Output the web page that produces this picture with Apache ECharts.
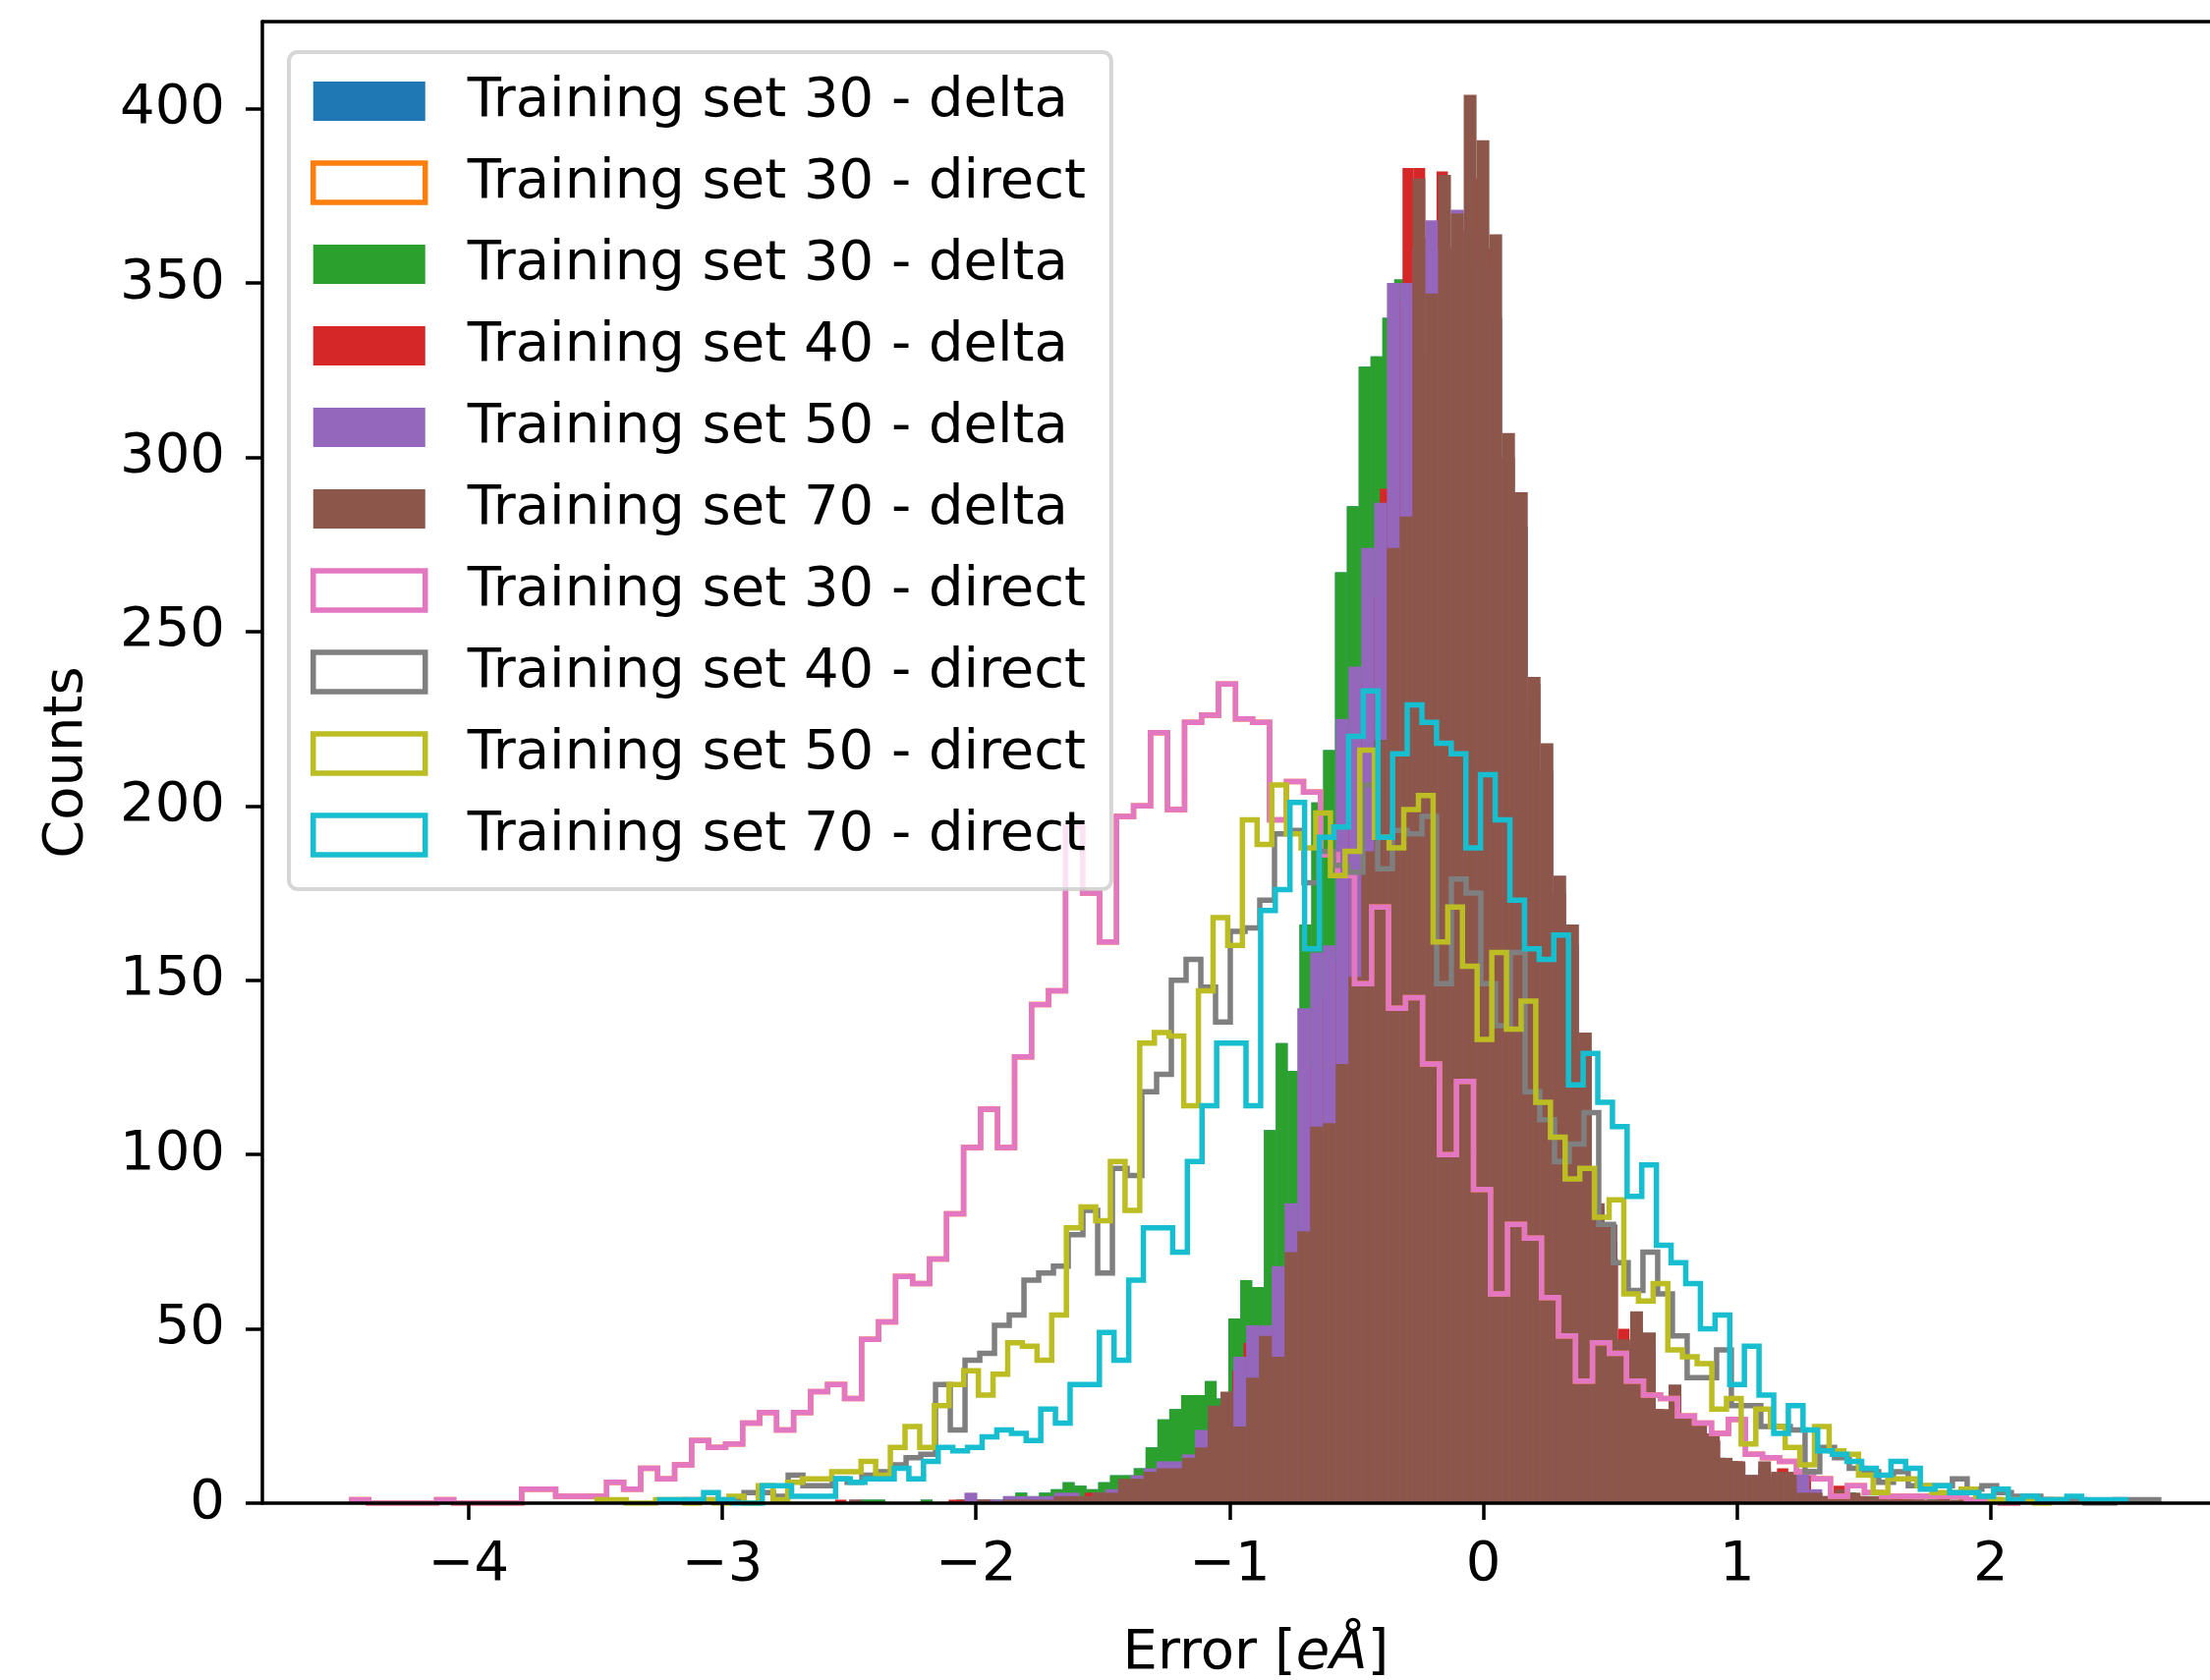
<!DOCTYPE html>
<html>
<head>
<meta charset="utf-8">
<script src="https://cdn.jsdelivr.net/npm/echarts@6/dist/echarts.min.js"></script>
<style>
  html, body { margin: 0; padding: 0; background: #ffffff; }
  #chart { width: 2249px; height: 1710px; }
</style>
</head>
<body>
<div id="chart"></div>
<script>
// Histogram data: first bin edge and bin width (in eÅ) plus 100 counts per model.

// Training set 30 - delta
const delta30Start = -2.4516, delta30Width = 0.04667;
const delta30Counts = [
  1, 1, 0, 0, 0, 1, 0, 0, 1, 1,
  1, 1, 2, 3, 2, 3, 4, 6, 5, 4,
  6, 8, 8, 10, 16, 24, 27, 31, 31, 35,
  30, 53, 64, 62, 107, 132, 124, 166, 201, 216,
  267, 286, 326, 329, 340, 351, 330, 330, 330, 340,
  340, 340, 330, 300, 270, 260, 220, 200, 175, 165,
  130, 80, 75, 47, 45, 42, 44, 25, 24, 24,
  22, 20, 13, 12, 8, 8, 7, 7, 8, 3,
  3, 2, 2, 3, 2, 2, 1, 1, 1, 0,
  1, 0, 0, 0, 0, 0, 0, 0, 0, 1
];

// Training set 40 - delta
const delta40Start = -2.5554, delta40Width = 0.04473;
const delta40Counts = [
  1, 0, 0, 0, 0, 0, 0, 0, 0, 0,
  1, 1, 1, 1, 0, 1, 1, 1, 1, 2,
  2, 2, 3, 3, 3, 5, 6, 8, 9, 10,
  10, 12, 15, 25, 28, 38, 46, 46, 50, 60,
  78, 125, 145, 145, 155, 215, 235, 260, 291, 345,
  383, 383, 363, 382, 360, 365, 380, 360, 300, 290,
  280, 230, 210, 175, 160, 130, 85, 80, 70, 50,
  45, 45, 27, 25, 25, 23, 20, 18, 12, 12,
  8, 8, 7, 10, 7, 8, 3, 2, 5, 2,
  2, 1, 1, 2, 1, 1, 0, 0, 0, 1
];

// Training set 50 - delta
const delta50Start = -2.4996, delta50Width = 0.05046;
const delta50Counts = [
  1, 0, 0, 0, 0, 0, 0, 0, 0, 3,
  1, 1, 2, 2, 2, 2, 3, 3, 2, 3,
  4, 6, 8, 10, 12, 12, 14, 21, 26, 30,
  42, 51, 51, 68, 86, 142, 158, 160, 225, 240,
  274, 287, 350, 350, 360, 368, 360, 371, 365, 355,
  340, 300, 280, 235, 210, 175, 160, 130, 85, 75,
  45, 50, 45, 25, 30, 22, 22, 18, 12, 11,
  8, 10, 8, 8, 9, 4, 2, 3, 2, 1,
  1, 1, 0, 1, 0, 0, 0, 0, 0, 0,
  0, 0, 0, 0, 0, 0, 0, 0, 0, 1
];

// Training set 70 - delta
const delta70Start = -2.4996, delta70Width = 0.05046;
const delta70Counts = [
  1, 0, 0, 0, 0, 0, 0, 0, 0, 0,
  1, 0, 1, 1, 1, 1, 2, 2, 2, 3,
  3, 7, 7, 9, 10, 10, 13, 16, 28, 32,
  22, 36, 48, 42, 72, 78, 108, 109, 126, 151,
  187, 219, 274, 283, 380, 347, 381, 370, 404, 391,
  364, 307, 290, 237, 218, 180, 166, 135, 86, 80,
  47, 55, 49, 27, 34, 25, 23, 20, 13, 12,
  8, 12, 9, 9, 3, 3, 2, 4, 3, 2,
  2, 1, 1, 1, 1, 2, 1, 0, 0, 0,
  0, 0, 0, 0, 0, 0, 0, 0, 0, 1
];

// Training set 30 - direct
const direct30Start = -4.461, direct30Width = 0.0670;
const direct30Counts = [
  1, 0, 0, 0, 0, 1, 0, 0, 0, 0,
  4, 4, 2, 2, 2, 6, 4, 10, 7, 11,
  18, 16, 17, 23, 26, 21, 26, 32, 34, 30,
  47, 52, 65, 63, 70, 83, 102, 113, 102, 128,
  143, 147, 194, 175, 161, 197, 200, 221, 199, 224,
  226, 235, 225, 224, 196, 207, 204, 186, 180, 149,
  171, 142, 145, 126, 100, 121, 90, 60, 80, 76,
  59, 48, 35, 46, 43, 35, 31, 30, 25, 23,
  20, 24, 14, 13, 12, 9, 7, 2, 5, 3,
  2, 2, 2, 2, 2, 1, 1, 0, 1, 1
];

// Training set 40 - direct
const direct40Start = -3.147, direct40Width = 0.05809;
const direct40Counts = [
  1, 1, 1, 1, 3, 3, 2, 8, 5, 5,
  7, 6, 8, 9, 11, 13, 14, 34, 21, 41,
  43, 51, 54, 64, 66, 68, 77, 84, 66, 96,
  94, 118, 123, 150, 156, 148, 138, 164, 165, 173,
  192, 193, 178, 187, 183, 181, 206, 182, 193, 192,
  197, 149, 179, 175, 149, 137, 158, 118, 110, 98,
  103, 112, 80, 69, 61, 72, 60, 48, 36, 36,
  44, 28, 28, 22, 22, 21, 9, 16, 13, 10,
  9, 6, 9, 5, 5, 5, 7, 4, 5, 3,
  2, 2, 1, 1, 1, 0, 0, 1, 1, 1
];

// Training set 50 - direct
const direct50Start = -3.494, direct50Width = 0.05782;
const direct50Counts = [
  1, 1, 0, 0, 1, 1, 0, 1, 0, 2,
  0, 5, 1, 6, 7, 7, 9, 9, 12, 8,
  16, 22, 16, 28, 34, 38, 31, 37, 46, 45,
  41, 54, 79, 85, 81, 98, 84, 132, 135, 134,
  114, 147, 168, 160, 196, 189, 206, 192, 188, 198,
  180, 187, 216, 191, 188, 199, 203, 161, 171, 154,
  133, 158, 136, 144, 115, 105, 93, 96, 82, 87,
  60, 58, 63, 44, 42, 40, 27, 30, 17, 27,
  22, 16, 11, 22, 15, 14, 8, 3, 7, 7,
  5, 3, 3, 4, 2, 1, 1, 1, 0, 1
];

// Training set 70 - direct
const direct70Start = -3.247, direct70Width = 0.05778;
const direct70Counts = [
  1, 1, 1, 3, 1, 0, 0, 5, 5, 2,
  2, 2, 7, 6, 7, 7, 10, 7, 12, 16,
  15, 16, 19, 21, 20, 18, 27, 23, 34, 34,
  49, 41, 64, 79, 79, 72, 98, 114, 132, 132,
  114, 170, 176, 201, 159, 191, 194, 220, 233, 191,
  215, 229, 224, 218, 215, 188, 209, 196, 173, 159,
  156, 163, 120, 129, 115, 108, 88, 97, 74, 69,
  63, 50, 54, 34, 45, 31, 20, 28, 21, 15,
  14, 12, 10, 8, 12, 10, 4, 5, 3, 3,
  2, 4, 1, 2, 1, 1, 2, 1, 1, 1
];

// Axis limits and tick labels
const xMin = -4.813, xMax = 3.019;
const yMax = 425;
const xTicks = [-4, -3, -2, -1, 0, 1, 2];
const yTicks = [0, 50, 100, 150, 200, 250, 300, 350, 400];

const FONT = 'DejaVu Sans';
const FS = 56;
const COLORS = {
  blue: '#1f77b4', orange: '#ff7f0e', green: '#2ca02c', red: '#d62728',
  purple: '#9467bd', brown: '#8c564b', pink: '#e377c2', gray: '#7f7f7f',
  olive: '#bcbd22', cyan: '#17becf'
};

// Filled histogram: one rectangle per bin, placed through the axis scales.
function filledSeries(name, color, start, width, counts) {
  const items = counts.map((c, i) => [start + i * width, start + (i + 1) * width, c]);
  return {
    type: 'custom',
    name: name,
    coordinateSystem: 'cartesian2d',
    clip: true,
    silent: true,
    animation: false,
    itemStyle: { color: color },
    encode: { x: [0, 1], y: 2 },
    data: items,
    renderItem: function (params, api) {
      const x0 = api.value(0), x1 = api.value(1), c = api.value(2);
      if (!(c > 0)) return { type: 'group', children: [] };
      const p0 = api.coord([x0, 0]);
      const p1 = api.coord([x1, c]);
      return {
        type: 'rect',
        shape: { x: p0[0], y: p1[1], width: p1[0] - p0[0], height: p0[1] - p1[1] },
        style: { fill: color }
      };
    }
  };
}

// Step outline histogram: up from the baseline, across every bin, back down.
function stepSeries(name, color, start, width, counts) {
  const pts = [[start, 0]];
  counts.forEach((c, i) => {
    pts.push([start + i * width, c], [start + (i + 1) * width, c]);
  });
  pts.push([start + counts.length * width, 0]);
  return {
    type: 'line',
    name: name,
    data: pts,
    showSymbol: false,
    symbol: 'none',
    silent: true,
    animation: false,
    clip: true,
    itemStyle: { color: color },
    lineStyle: { color: color, width: 5.5, join: 'miter', cap: 'butt' }
  };
}

const series = [
  filledSeries('Training set 30 - delta', COLORS.blue, delta30Start, delta30Width, delta30Counts),
  stepSeries('Training set 30 - direct', COLORS.orange, direct30Start, direct30Width, direct30Counts),
  filledSeries('Training set 30 - delta ', COLORS.green, delta30Start, delta30Width, delta30Counts),
  filledSeries('Training set 40 - delta', COLORS.red, delta40Start, delta40Width, delta40Counts),
  filledSeries('Training set 50 - delta', COLORS.purple, delta50Start, delta50Width, delta50Counts),
  filledSeries('Training set 70 - delta', COLORS.brown, delta70Start, delta70Width, delta70Counts),
  stepSeries('Training set 30 - direct ', COLORS.pink, direct30Start, direct30Width, direct30Counts),
  stepSeries('Training set 40 - direct', COLORS.gray, direct40Start, direct40Width, direct40Counts),
  stepSeries('Training set 50 - direct', COLORS.olive, direct50Start, direct50Width, direct50Counts),
  stepSeries('Training set 70 - direct', COLORS.cyan, direct70Start, direct70Width, direct70Counts)
];

function legendEntry(s, filled) {
  const color = s.itemStyle.color;
  return filled
    ? { name: s.name, icon: 'rect', itemStyle: { color: color, borderWidth: 0 } }
    : { name: s.name, icon: 'rect', itemStyle: { color: 'rgba(255,255,255,0)', borderColor: color, borderWidth: 5.5 } };
}

const minusFmt = v => (v < 0 ? '\u2212' + Math.abs(v) : String(v));

const option = {
  backgroundColor: '#ffffff',
  animation: false,
  grid: {
    left: 267, top: 22, width: 2022, height: 1508,
    containLabel: false, outerBoundsMode: 'none'
  },
  legend: {
    orient: 'vertical',
    left: 294, top: 53,
    padding: [22, 8, 27, 22],
    itemWidth: 114, itemHeight: 40, itemGap: 27,
    backgroundColor: 'rgba(255,255,255,0.8)',
    borderColor: 'rgba(204,204,204,0.8)',
    borderWidth: 4, borderRadius: 9,
    selectedMode: false,
    textStyle: { fontFamily: FONT, fontSize: FS, color: '#000', lineHeight: 55, padding: [0, 0, 0, 38] },
    data: series.map(s => legendEntry(s, s.type === 'custom'))
  },
  xAxis: [{
    type: 'value', min: xMin, max: xMax, position: 'bottom', z: 10,
    axisLine: { show: true, onZero: false, lineStyle: { color: '#000', width: 3.5 } },
    axisTick: { show: true, length: 17, lineStyle: { color: '#000', width: 3.5 }, customValues: xTicks },
    axisLabel: { show: true, customValues: xTicks, formatter: minusFmt, margin: 35,
                 fontFamily: FONT, fontSize: FS, color: '#000' },
    splitLine: { show: false },
    name: '{n|Error [}{i|eÅ}{n|]}',
    nameLocation: 'middle', nameGap: 125,
    nameTextStyle: {
      fontFamily: FONT, fontSize: FS, color: '#000',
      rich: {
        n: { fontFamily: FONT, fontSize: FS, color: '#000' },
        i: { fontFamily: FONT, fontSize: FS, color: '#000', fontStyle: 'italic' }
      }
    }
  }, {
    type: 'value', min: xMin, max: xMax, position: 'top', z: 10,
    axisLine: { show: true, onZero: false, lineStyle: { color: '#000', width: 3.5 } },
    axisTick: { show: false }, axisLabel: { show: false }, splitLine: { show: false }
  }],
  yAxis: {
    type: 'value', min: 0, max: yMax, z: 10,
    axisLine: { show: true, onZero: false, lineStyle: { color: '#000', width: 3.5 } },
    axisTick: { show: true, length: 17, lineStyle: { color: '#000', width: 3.5 }, customValues: yTicks },
    axisLabel: { show: true, customValues: yTicks, margin: 38,
                 fontFamily: FONT, fontSize: FS, color: '#000' },
    splitLine: { show: false },
    name: 'Counts', nameLocation: 'middle', nameGap: 171, nameRotate: 90,
    nameTextStyle: { fontFamily: FONT, fontSize: FS, color: '#000' }
  },
  series: series
};

const chart = echarts.init(document.getElementById('chart'), null, { renderer: 'canvas' });
chart.setOption(option);
</script>
</body>
</html>
